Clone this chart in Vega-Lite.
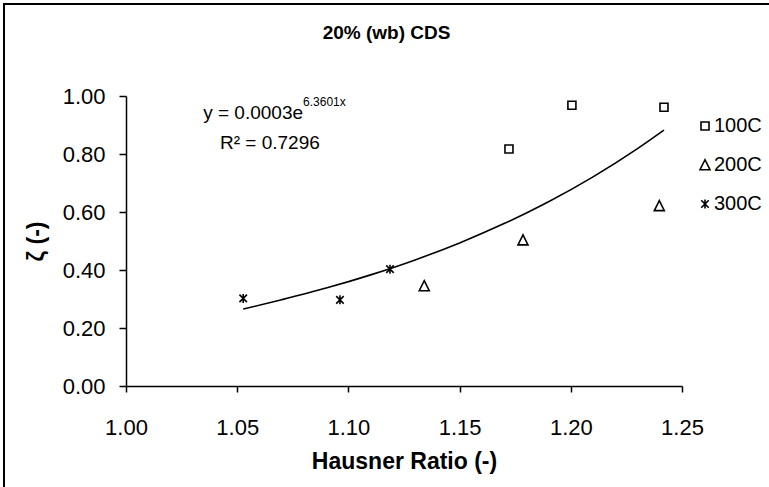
{
  "$schema": "https://vega.github.io/schema/vega-lite/v6.json",
  "width": 765,
  "height": 483,
  "autosize": {"type": "none"},
  "padding": {"left": 4, "top": 4, "right": 0, "bottom": 0},
  "background": "white",
  "title": {
    "text": "20% (wb) CDS",
    "anchor": "middle",
    "frame": "group",
    "offset": -39,
    "fontSize": 19,
    "fontWeight": "bold",
    "font": "Liberation Sans, Arial, sans-serif",
    "color": "black"
  },
  "config": {
    "view": {"stroke": "black", "strokeWidth": 2, "strokeDash": [765, 1248, 484, 0]},
    "font": "Liberation Sans, Arial, sans-serif",
    "axis": {
      "grid": false,
      "domainColor": "black",
      "domainWidth": 1.5,
      "tickColor": "black",
      "tickWidth": 1.5,
      "labelColor": "black",
      "titleColor": "black",
      "labelFont": "Liberation Sans, Arial, sans-serif",
      "titleFont": "Liberation Sans, Arial, sans-serif",
      "labelFontSize": 22,
      "titleFontSize": 23,
      "titleFontWeight": "bold"
    },
    "legend": {
      "orient": "none",
      "legendX": 691,
      "legendY": 112,
      "padding": 0,
      "rowPadding": 19,
      "symbolSize": 100,
      "symbolStrokeWidth": 1.6,
      "symbolStrokeColor": "black",
      "symbolFillColor": "transparent",
      "labelFont": "Liberation Sans, Arial, sans-serif",
      "labelFontSize": 20,
      "labelColor": "black",
      "labelOffset": -1
    }
  },
  "datasets": {
    "samples": [
      {"x": 1.1722, "y": 0.817, "series": "100C"},
      {"x": 1.2005, "y": 0.968, "series": "100C"},
      {"x": 1.2419, "y": 0.961, "series": "100C"},
      {"x": 1.1341, "y": 0.345, "series": "200C"},
      {"x": 1.1785, "y": 0.503, "series": "200C"},
      {"x": 1.2398, "y": 0.621, "series": "200C"},
      {"x": 1.0527, "y": 0.302, "series": "300C"},
      {"x": 1.0962, "y": 0.297, "series": "300C"},
      {"x": 1.1187, "y": 0.403, "series": "300C"}
    ],
    "trend": [
      {"x": 1.0527, "y": 0.265},
      {"x": 1.07, "y": 0.2975},
      {"x": 1.09, "y": 0.3376},
      {"x": 1.11, "y": 0.3832},
      {"x": 1.13, "y": 0.4348},
      {"x": 1.15, "y": 0.4935},
      {"x": 1.17, "y": 0.56},
      {"x": 1.19, "y": 0.6355},
      {"x": 1.21, "y": 0.7212},
      {"x": 1.23, "y": 0.8185},
      {"x": 1.2419, "y": 0.8824}
    ]
  },
  "encoding": {
    "x": {
      "field": "x",
      "type": "quantitative",
      "scale": {"domain": [1, 1.25], "range": [122, 678], "nice": false, "zero": false},
      "axis": {
        "title": "Hausner Ratio (-)",
        "orient": "bottom",
        "offset": -101,
        "values": [1, 1.05, 1.1, 1.15, 1.2, 1.25],
        "format": ".2f",
        "tickSize": 6,
        "labelPadding": 25,
        "titlePadding": 12,
        "labelFlush": false,
        "labelOverlap": false
      }
    },
    "y": {
      "field": "y",
      "type": "quantitative",
      "scale": {"domain": [0, 1], "range": [382, 92], "nice": false, "zero": false},
      "axis": {
        "title": "ζ (-)",
        "orient": "left",
        "offset": -122,
        "values": [0, 0.2, 0.4, 0.6, 0.8, 1],
        "format": ".2f",
        "tickSize": 7,
        "labelPadding": 14,
        "titlePadding": 14,
        "labelOverlap": false
      }
    }
  },
  "layer": [
    {
      "data": {"name": "trend"},
      "mark": {"type": "line", "color": "black", "strokeWidth": 1.6, "interpolate": "monotone"}
    },
    {
      "data": {"name": "samples"},
      "mark": {"type": "point", "filled": false, "color": "black", "strokeWidth": 1.6, "size": 100, "opacity": 1},
      "encoding": {
        "shape": {
          "field": "series",
          "type": "nominal",
          "scale": {
            "domain": ["100C", "200C", "300C"],
            "range": [
              "M-0.8,-0.8H0.8V0.8H-0.8Z",
              "M0,-1.05L1,0.95L-1,0.95Z",
              "M-0.75,-0.75L0.75,0.75M-0.75,0.75L0.75,-0.75M0,-0.9L0,0.9"
            ]
          },
          "legend": {"title": null}
        }
      }
    },
    {
      "data": {"values": [{"x": 1.0796, "y": 0.941, "label": "y = 0.0003e"}]},
      "mark": {"type": "text", "align": "right", "baseline": "middle", "fontSize": 19, "color": "black"},
      "encoding": {"text": {"field": "label"}}
    },
    {
      "data": {"values": [{"x": 1.0796, "y": 0.941, "label": "6.3601x"}]},
      "mark": {"type": "text", "align": "left", "baseline": "middle", "fontSize": 12, "dy": -11, "color": "black"},
      "encoding": {"text": {"field": "label"}}
    },
    {
      "data": {"values": [{"x": 1.0647, "y": 0.838, "label": "R² = 0.7296"}]},
      "mark": {"type": "text", "align": "center", "baseline": "middle", "fontSize": 19, "color": "black"},
      "encoding": {"text": {"field": "label"}}
    }
  ]
}
